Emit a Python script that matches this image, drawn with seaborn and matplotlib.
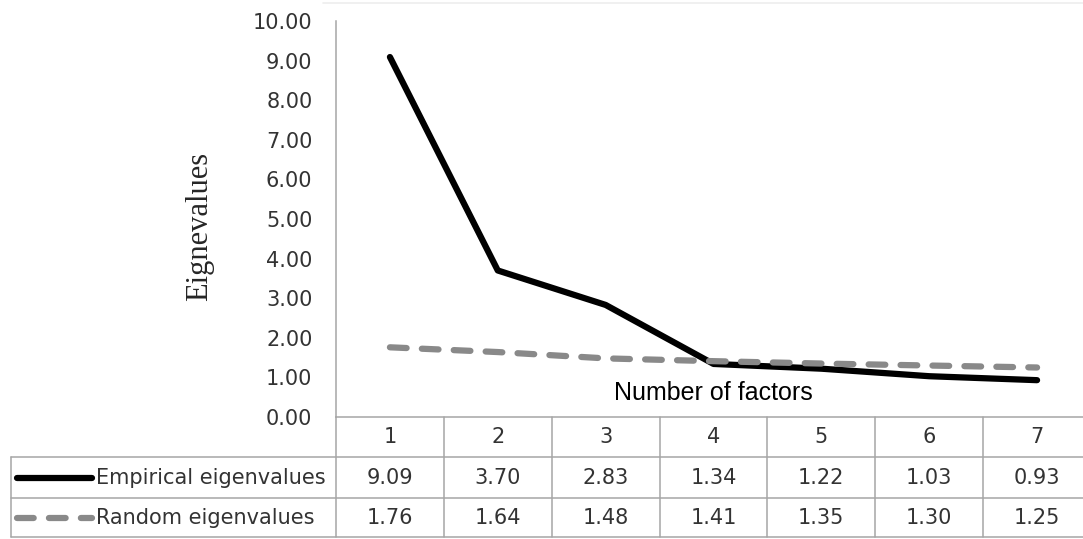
"""
Scree plot: empirical vs random eigenvalues, Excel style with data table
"""

import numpy as np
import pandas as pd
import seaborn as sns
import matplotlib.pyplot as plt
from matplotlib.lines import Line2D
from matplotlib.transforms import blended_transform_factory

# data
factors = [1, 2, 3, 4, 5, 6, 7]
empirical = [9.09, 3.70, 2.83, 1.34, 1.22, 1.03, 0.93]
random_eig = [1.76, 1.64, 1.48, 1.41, 1.35, 1.30, 1.25]
series_names = ["Empirical eigenvalues", "Random eigenvalues"]
y_ticks = [0, 1, 2, 3, 4, 5, 6, 7, 8, 9, 10]

W, H = 1083, 539
BLACK = "#000000"
GRAY = "#898989"
GRID = "#a6a6a6"
TXT = "#333333"
LW = 4.5
DASH = (2.67, 2.44)

df = pd.DataFrame({
    "factor": factors * 2,
    "eigenvalue": empirical + random_eig,
    "series": [series_names[0]] * len(factors) + [series_names[1]] * len(factors),
})

sns.set_theme(style="white")
plt.rcParams["font.family"] = ["DejaVu Sans"]

fig = plt.figure(figsize=(W / 100, H / 100), dpi=100)

# plot area in pixel units (right edge runs past the picture, as in the reference)
left, right, top, bottom = 336, 1091, 21, 417
ax = fig.add_axes([left / W, 1 - bottom / H, (right - left) / W, (bottom - top) / H])

sns.lineplot(data=df, x="factor", y="eigenvalue", hue="series", style="series",
             palette={series_names[0]: BLACK, series_names[1]: GRAY},
             dashes={series_names[0]: "", series_names[1]: DASH},
             linewidth=LW, legend=False, ax=ax)
for ln in ax.lines:
    ln.set_solid_capstyle("round")
    ln.set_dash_capstyle("round")
    ln.set_solid_joinstyle("round")

ax.set_xlim(0.5, len(factors) + 0.5)
ax.set_ylim(min(y_ticks), max(y_ticks))
ax.set_yticks(y_ticks)
ax.set_yticklabels([f"{v:.2f}" for v in y_ticks], fontsize=15, color=TXT)
ax.set_xticks([])
ax.tick_params(axis="y", length=0, pad=17)

for s in ["top", "right"]:
    ax.spines[s].set_visible(False)
for s in ["left", "bottom"]:
    ax.spines[s].set_color(GRID)
    ax.spines[s].set_linewidth(1.1)

ax.set_ylabel("Eignevalues", fontsize=22, family=["Liberation Serif", "DejaVu Serif"],
              color="#262626")
ax.yaxis.set_label_coords((200 - left) / (right - left), (bottom - 226) / (bottom - top))
ax.yaxis.label.set_va("center")

ax.set_xlabel("Number of factors", fontsize=18, family=["Liberation Sans", "DejaVu Sans"],
              color="#000000")
ax.xaxis.set_label_coords(0.5, (bottom - 393) / (bottom - top))
ax.xaxis.label.set_va("center")

# data table below the plot
def fy(y):
    return 1 - y / H

def fx(x):
    return x / W

tr = blended_transform_factory(ax.transData, fig.transFigure)
row_edges = [bottom, 457, 498, 537]
table_left = 11

for xb in np.arange(0.5, len(factors) + 1, 1.0):
    fig.add_artist(Line2D([xb, xb], [fy(row_edges[0]), fy(row_edges[-1])],
                          transform=tr, color=GRID, lw=1.1, clip_on=False))
fig.add_artist(Line2D([fx(table_left), fx(table_left)], [fy(row_edges[1]), fy(row_edges[-1])],
                      transform=fig.transFigure, color=GRID, lw=1.1))
for yb in row_edges[1:]:
    fig.add_artist(Line2D([fx(table_left), 1.02], [fy(yb), fy(yb)],
                          transform=fig.transFigure, color=GRID, lw=1.1))

# faint chart border at the top
fig.add_artist(Line2D([fx(323), 1.0], [fy(3), fy(3)], transform=fig.transFigure,
                      color="#eeeeee", lw=1.2))

row_mid = [(row_edges[i] + row_edges[i + 1]) / 2 for i in range(3)]
for f in factors:
    fig.text(f, fy(row_mid[0]), str(f), transform=tr, ha="center", va="center",
             fontsize=15, color=TXT)
for f, e, r in zip(factors, empirical, random_eig):
    fig.text(f, fy(row_mid[1]), f"{e:.2f}", transform=tr, ha="center", va="center",
             fontsize=15, color=TXT)
    fig.text(f, fy(row_mid[2]), f"{r:.2f}", transform=tr, ha="center", va="center",
             fontsize=15, color=TXT)

# legend keys inside the table
for i, (name, col, dash) in enumerate([(series_names[0], BLACK, None),
                                       (series_names[1], GRAY, DASH)]):
    yk = fy(row_mid[i + 1])
    key = Line2D([fx(17), fx(92)], [yk, yk], transform=fig.transFigure, color=col,
                 lw=LW, solid_capstyle="round", dash_capstyle="round")
    if dash:
        key.set_dashes(dash)
    fig.add_artist(key)
    fig.text(fx(96), yk, name, ha="left", va="center", fontsize=15, color=TXT)

fig.savefig("out.png", dpi=100)
